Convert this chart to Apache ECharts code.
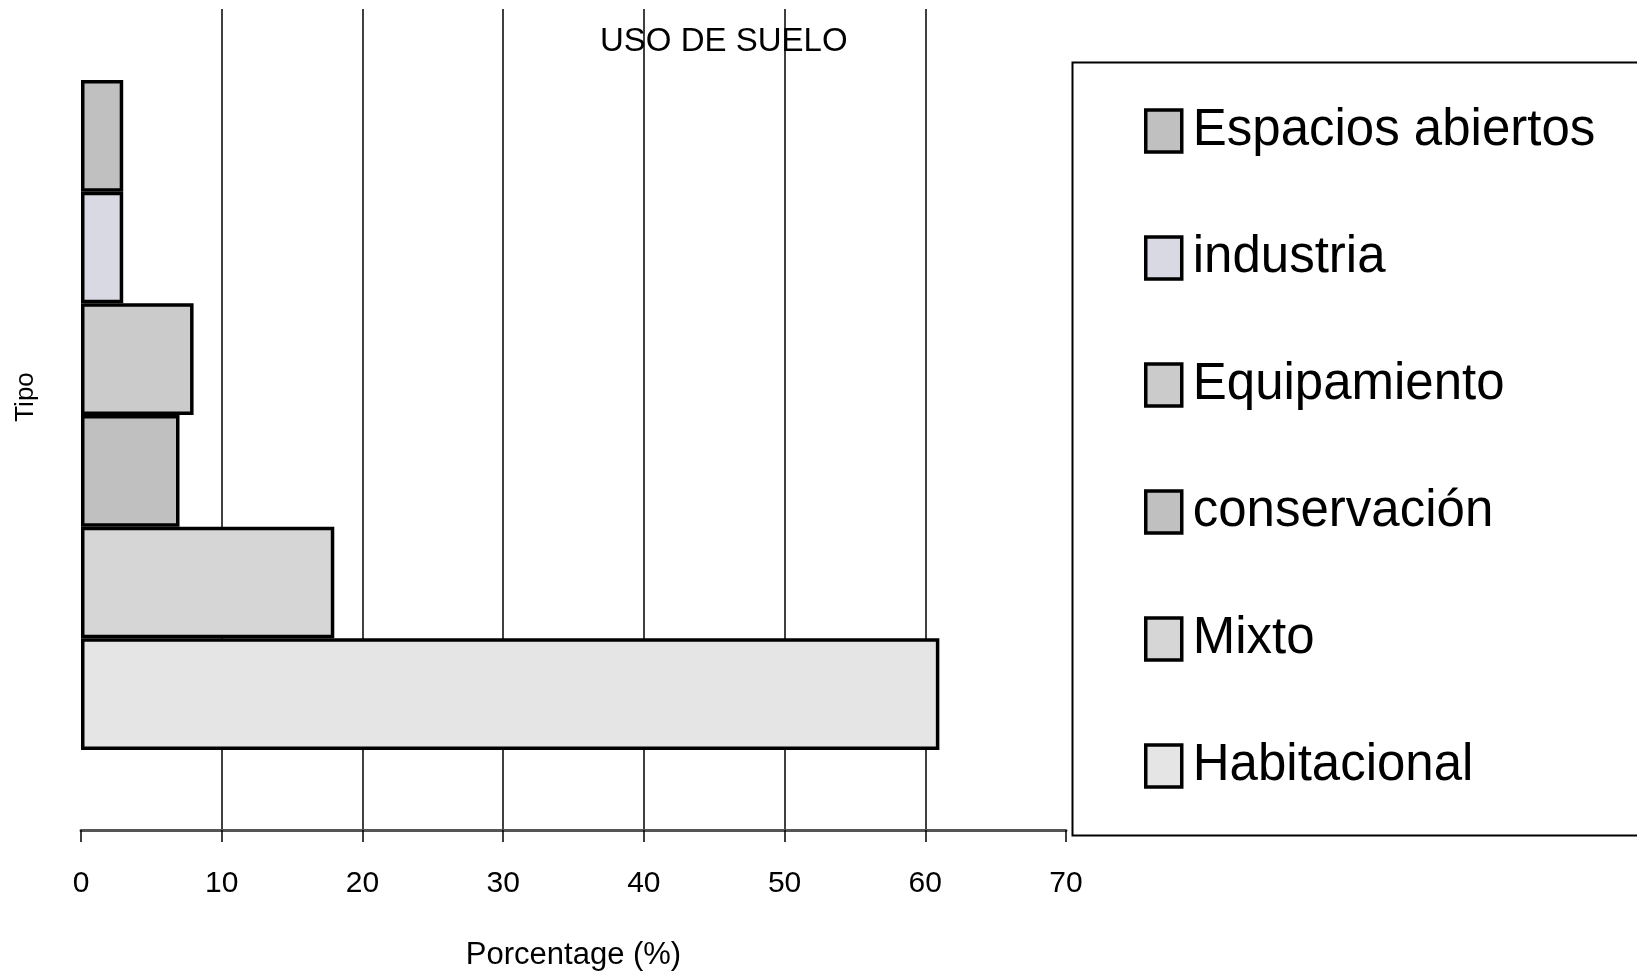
<!DOCTYPE html>
<html>
<head>
<meta charset="utf-8">
<title>USO DE SUELO</title>
<script src="https://cdn.jsdelivr.net/npm/echarts@6/dist/echarts.min.js"></script>
<style>
  html, body { margin: 0; padding: 0; background: #ffffff; }
  #chart { width: 1637px; height: 976px; }
</style>
</head>
<body>
<div id="chart"></div>
<script>
// Land-use categories, listed top to bottom as in the legend
const usos = ['Espacios abiertos', 'industria', 'Equipamiento', 'conservación', 'Mixto', 'Habitacional'];
// Share of each land use, in percent
const porcentajes = [3, 3, 8, 7, 18, 61];
// Fill colour of each land use
const colores = ['#c0c0c0', '#d9d9e4', '#cbcbcb', '#c0c0c0', '#d6d6d6', '#e5e5e5'];
// Single category on the vertical axis
const tipos = ['Tipo'];
// Percentage axis ticks
const xTicks = [0, 10, 20, 30, 40, 50, 60, 70];

const FONT = '"Liberation Sans", Arial, sans-serif';

// One series per land use; on a horizontal category axis the first series is drawn on top
const series = usos.map((name, i) => ({
  name: name,
  type: 'bar',
  data: [porcentajes[i]],
  barGap: '0%',
  barCategoryGap: '19.3%',
  itemStyle: { color: colores[i], borderColor: '#000000', borderWidth: 3.5 }
}));

const chart = echarts.init(document.getElementById('chart'), null, { renderer: 'canvas' });

chart.setOption({
  animation: false,
  backgroundColor: '#ffffff',
  textStyle: { fontFamily: FONT, color: '#000000' },
  title: {
    text: 'USO DE SUELO',
    left: 600,
    top: 25,
    padding: 0,
    textStyle: { fontFamily: FONT, fontSize: 33, fontWeight: 'normal', color: '#000000' }
  },
  grid: { left: 81, right: 571, top: -10, bottom: 144, containLabel: false },
  xAxis: {
    type: 'value',
    min: xTicks[0],
    max: xTicks[xTicks.length - 1],
    interval: xTicks[1] - xTicks[0],
    name: 'Porcentage (%)',
    nameLocation: 'middle',
    nameGap: 110,
    nameTextStyle: { fontFamily: FONT, fontSize: 31, color: '#000000' },
    axisLine: { show: true, lineStyle: { color: '#555555', width: 3 } },
    axisTick: { show: true, length: 12, lineStyle: { color: '#000000', width: 1.5 } },
    axisLabel: { margin: 39, fontFamily: FONT, fontSize: 30, color: '#000000' },
    splitLine: { show: true, showMinLine: false, showMaxLine: false, lineStyle: { color: '#000000', width: 1.5 } }
  },
  yAxis: {
    type: 'category',
    data: tipos,
    name: 'Tipo',
    nameLocation: 'middle',
    nameRotate: 90,
    nameGap: 42,
    nameTextStyle: { fontFamily: FONT, fontSize: 26, color: '#000000', padding: [0, 0, 0, 36] },
    axisLine: { show: false },
    axisTick: { show: false },
    axisLabel: { show: false },
    splitLine: { show: false }
  },
  legend: {
    data: usos,
    orient: 'vertical',
    left: 1144,
    top: 99,
    padding: 0,
    icon: 'rect',
    itemWidth: 36,
    itemHeight: 42,
    itemGap: 63,
    itemStyle: { borderColor: '#000000', borderWidth: 3.5 },
    textStyle: { fontFamily: FONT, fontSize: 51, lineHeight: 64, color: '#000000', padding: [0, 0, 0, 6] },
    selectedMode: false
  },
  graphic: [{
    // frame around the legend, running off the right edge
    type: 'rect',
    left: 1070,
    top: 60,
    z: -1,
    shape: { width: 700, height: 773 },
    style: { fill: 'none', stroke: '#000000', lineWidth: 2 }
  }, {
    // blank margin above the plot area
    type: 'rect',
    left: 0,
    top: 0,
    z: 5,
    shape: { width: 1060, height: 9 },
    style: { fill: '#ffffff' }
  }],
  series: series
});
</script>
</body>
</html>
